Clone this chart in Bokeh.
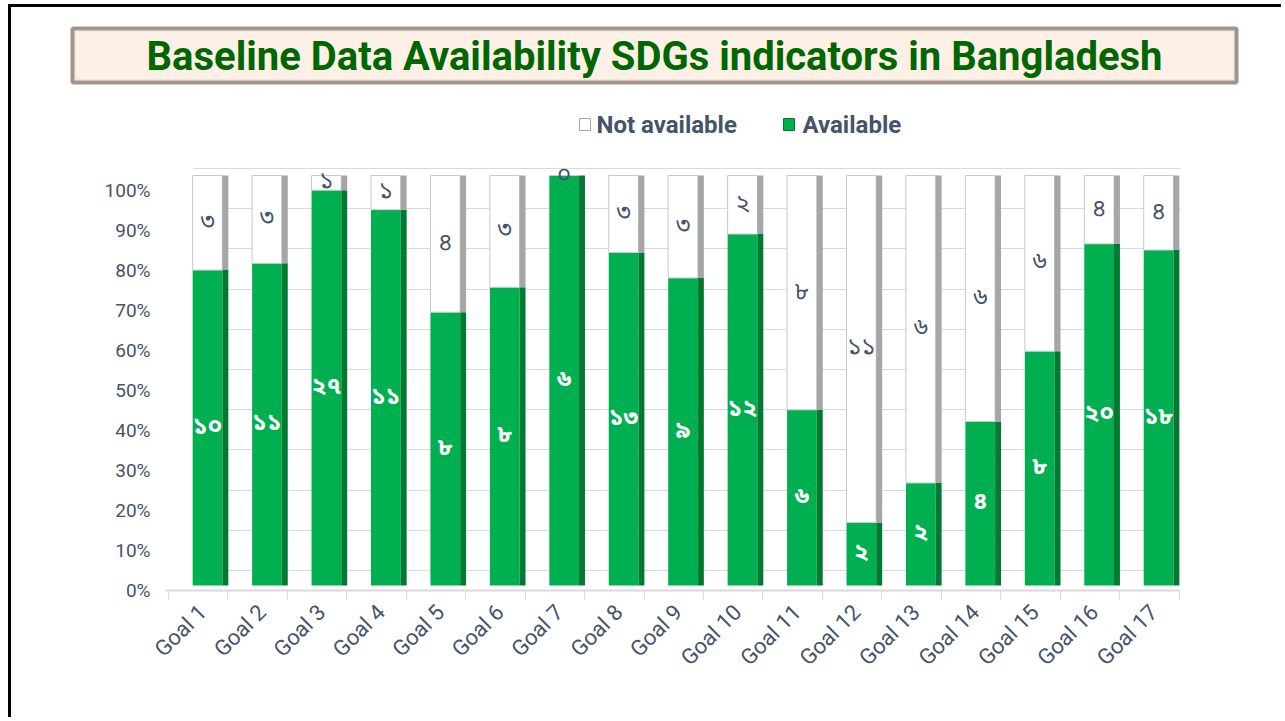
import numpy as np
from math import pi
from bokeh.plotting import figure
from bokeh.layouts import column
from bokeh.models import (Range1d, LinearAxis, FixedTicker, Grid, ColumnDataSource,
                          NumeralTickFormatter)
from bokeh.core.properties import value
from bokeh.embed import file_html
from bokeh.resources import INLINE

# ---------------- data ----------------
goals = ["Goal 1", "Goal 2", "Goal 3", "Goal 4", "Goal 5", "Goal 6", "Goal 7", "Goal 8",
         "Goal 9", "Goal 10", "Goal 11", "Goal 12", "Goal 13", "Goal 14", "Goal 15",
         "Goal 16", "Goal 17"]
available = [10, 11, 27, 11, 8, 8, 6, 13, 9, 12, 6, 2, 2, 4, 8, 20, 18]
not_available = [3, 3, 1, 1, 4, 3, 0, 3, 3, 2, 8, 11, 6, 6, 6, 4, 4]
y_ticks = [0.0, 0.1, 0.2, 0.3, 0.4, 0.5, 0.6, 0.7, 0.8, 0.9, 1.0]
series_names = ["Not available", "Available"]
title_text = "Baseline Data Availability SDGs indicators in Bangladesh"

BN = str.maketrans("0123456789", "০১২৩৪৫৬৭৮৯")
def to_bn(n):
    return str(n).translate(BN)

pos = np.arange(1, len(goals) + 1)
av = np.array(available, dtype=float)
na = np.array(not_available, dtype=float)
av_share = av / (av + na)
source = ColumnDataSource(dict(
    x_front=pos - 0.05,
    x_side=pos + 0.25,
    av_share=av_share,
    top=np.ones(len(goals)),
    av_mid=av_share / 2,
    na_mid=av_share + (1 - av_share) / 2,
    av_lbl=[to_bn(v) for v in available],
    na_lbl=[to_bn(v) for v in not_available],
))

FONT = "Roboto"
TXT = "#44546A"
GREEN = "#00B050"
GREEN_SIDE = "#007A33"
W = 1270

# ---------------- header (title + legend) ----------------
hdr = figure(width=W, height=143, x_range=Range1d(11, 11 + W), y_range=Range1d(150, 7),
             output_backend="svg", toolbar_location=None,
             x_axis_location=None, y_axis_location=None,
             min_border=0, min_border_left=0, min_border_right=0,
             min_border_top=0, min_border_bottom=0)
hdr.outline_line_color = None
hdr.grid.visible = False
hdr.quad(left=[72], right=[1236], top=[28], bottom=[82],
         fill_color="#FDF0E6", line_color="#A39489", line_width=4)
hdr.quad(left=[75], right=[1233], top=[31], bottom=[79],
         fill_color=None, line_color="#F4E6DC", line_width=1)
hdr.text(x=[654], y=[56], text=[title_text], text_align="center", text_baseline="middle",
         text_font=value(FONT), text_font_style="bold", text_font_size="40px",
         text_color="#006600")
# legend
hdr.quad(left=[579], right=[590], top=[118], bottom=[130],
         fill_color="white", line_color="#A6A6A6", line_width=1)
hdr.quad(left=[783], right=[794], top=[118], bottom=[130],
         fill_color=GREEN, line_color=GREEN_SIDE, line_width=1)
hdr.text(x=[596, 802], y=[124, 124], text=series_names, text_align="left",
         text_baseline="middle", text_font=value(FONT), text_font_style="bold",
         text_font_size="24px", text_color=TXT)

# ---------------- chart ----------------
p = figure(width=W, height=567,
           x_range=Range1d(0.243, 17.504),
           y_range=Range1d(-0.0122, 1.0366),
           output_backend="svg", toolbar_location=None,
           x_axis_location=None, y_axis_location=None,
           min_border_left=154, min_border_right=90,
           min_border_top=10, min_border_bottom=127)
p.outline_line_color = None
p.center = [c for c in p.center if not isinstance(c, Grid)]

for fig in (hdr, p):
    if "frame_align" in fig.properties():
        fig.frame_align = False

p.extra_y_ranges = {"grid": Range1d(-0.0498, 1.0199), "lbl": Range1d(0, 1.075)}
p.extra_x_ranges = {"floor": Range1d(-0.0505, 17.21),
                    "names": Range1d(0.243 + 0.13, 17.504 + 0.13)}

grid = Grid(dimension=1, ticker=FixedTicker(ticks=y_ticks), y_range_name="grid",
            cross_bounds=(0.714, 17.32),
            grid_line_color="#D9D9D9", grid_line_width=1)
p.add_layout(grid)

yax = LinearAxis(y_range_name="lbl", ticker=FixedTicker(ticks=y_ticks),
                 formatter=NumeralTickFormatter(format="0%"),
                 axis_line_color=None, major_tick_line_color=None, minor_tick_line_color=None,
                 major_tick_out=0, major_tick_in=0,
                 major_label_standoff=15, major_label_text_font=FONT,
                 major_label_text_font_size="19px", major_label_text_color=TXT)
p.add_layout(yax, "left")

fax = LinearAxis(x_range_name="floor", ticker=FixedTicker(ticks=list(range(len(goals) + 1))),
                 bounds=(-0.0505, len(goals)),
                 axis_line_color="#D9D9D9", axis_line_width=2,
                 major_tick_line_color="#D9D9D9", major_tick_out=9, major_tick_in=0,
                 minor_tick_line_color=None, major_label_text_alpha=0,
                 major_label_text_font_size="1px", major_label_standoff=0)
p.add_layout(fax, "below")

xax = LinearAxis(x_range_name="names", ticker=FixedTicker(ticks=list(pos)),
                 major_label_overrides={int(k): g for k, g in zip(pos, goals)},
                 axis_line_color=None, major_tick_line_color=None, minor_tick_line_color=None,
                 major_tick_out=0, major_tick_in=0,
                 major_label_orientation=pi / 4, major_label_standoff=9,
                 major_label_text_font=FONT, major_label_text_font_size="22px",
                 major_label_text_color=TXT)
p.add_layout(xax, "below")

# bars: front face + darker side face
p.vbar(x="x_front", width=0.5, bottom=0, top="av_share",
       source=source, fill_color=GREEN, line_color=None)
p.vbar(x="x_side", width=0.1, bottom=0, top="av_share",
       source=source, fill_color=GREEN_SIDE, line_color=None)
p.vbar(x="x_front", width=0.5, bottom="av_share", top="top",
       source=source, fill_color="white", line_color="#C8C8C8", line_width=1)
p.vbar(x="x_side", width=0.1, bottom="av_share", top="top",
       source=source, fill_color="#A6A6A6", line_color=None)

p.text(x="x_front", y="av_mid", text="av_lbl", source=source,
       text_color="white", text_align="center", text_baseline="middle",
       text_font=value("Noto Sans Bengali"), text_font_size="24px", text_font_style="bold")
p.text(x="x_front", y="na_mid", text="na_lbl", source=source,
       text_color=TXT, text_align="center", text_baseline="middle",
       text_font=value("Noto Sans Bengali"), text_font_size="24px")

layout = column(hdr, p, spacing=0,
                styles={"margin-left": "8px", "margin-top": "4px",
                        "border-left": "3px solid black", "border-top": "3px solid black"})

open("out.html", "w").write(file_html(layout, INLINE))
